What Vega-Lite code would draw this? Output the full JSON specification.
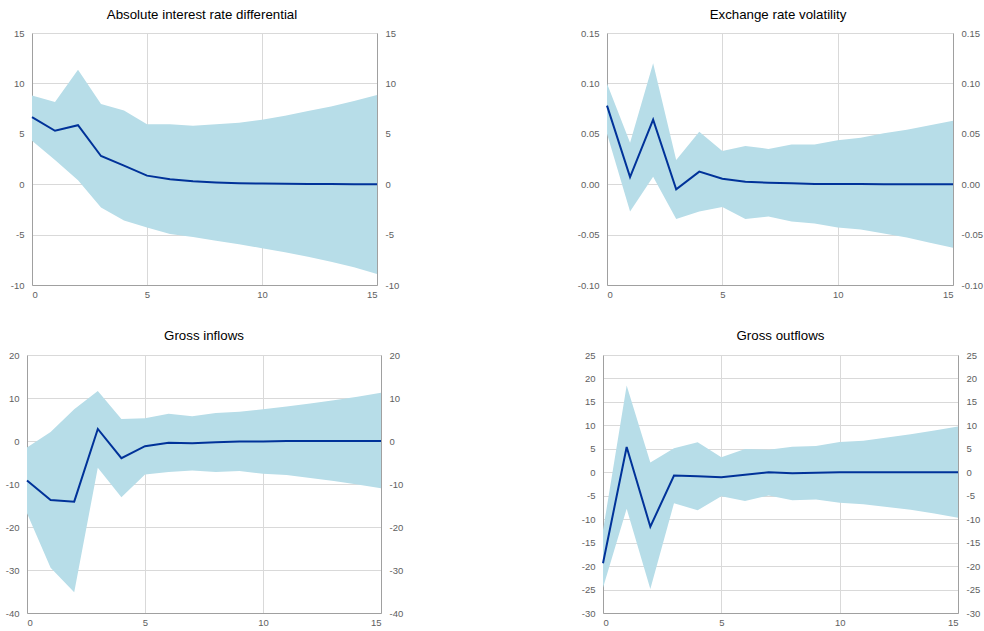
{
  "$schema": "https://vega.github.io/schema/vega-lite/v6.json",
  "padding": {"left": 0, "top": 7, "right": 0, "bottom": 0},
  "background": "white",
  "config": {
    "view": {"stroke": null},
    "locale": {"number": {"decimal": ".", "thousands": ",", "grouping": [3], "currency": ["$", ""], "minus": "-"}},
    "title": {"font": "Liberation Sans", "fontSize": 13.3, "fontWeight": "normal", "color": "#000000", "offset": 7},
    "axis": {"labelFont": "Liberation Sans", "labelFontSize": 9.5, "labelColor": "#606060", "domainColor": "#a0a0a0", "domainWidth": 1, "ticks": false, "gridColor": "#d9d9d9", "gridWidth": 1, "title": null, "labelPadding": 8, "minExtent": 0}
  },
  "spacing": 162,
  "hconcat": [
    {
      "spacing": 29,
      "vconcat": [
        {
          "width": 350, "height": 252,
          "title": "Absolute interest rate differential",
          "data": {"values": [
            {"h": 0, "lo": 4.3, "mid": 6.65, "hi": 8.8},
            {"h": 1, "lo": 2.4, "mid": 5.3, "hi": 8.15},
            {"h": 2, "lo": 0.4, "mid": 5.85, "hi": 11.35},
            {"h": 3, "lo": -2.3, "mid": 2.8, "hi": 7.95},
            {"h": 4, "lo": -3.6, "mid": 1.85, "hi": 7.3},
            {"h": 5, "lo": -4.3, "mid": 0.85, "hi": 5.95},
            {"h": 6, "lo": -4.95, "mid": 0.5, "hi": 5.95},
            {"h": 7, "lo": -5.25, "mid": 0.3, "hi": 5.8},
            {"h": 8, "lo": -5.6, "mid": 0.18, "hi": 5.95},
            {"h": 9, "lo": -5.95, "mid": 0.1, "hi": 6.1},
            {"h": 10, "lo": -6.35, "mid": 0.06, "hi": 6.4},
            {"h": 11, "lo": -6.75, "mid": 0.04, "hi": 6.8},
            {"h": 12, "lo": -7.2, "mid": 0.02, "hi": 7.25},
            {"h": 13, "lo": -7.7, "mid": 0.01, "hi": 7.7},
            {"h": 14, "lo": -8.25, "mid": 0.0, "hi": 8.25},
            {"h": 15, "lo": -8.9, "mid": 0.0, "hi": 8.85}
          ]},
          "encoding": {"x": {"field": "h", "type": "quantitative", "scale": {"domain": [0, 15], "nice": false, "range": [5, 350]}, "axis": {"values": [0, 5, 10, 15], "grid": true, "labelPadding": 4}}},
          "layer": [
            {"mark": {"type": "area", "color": "#b7dde8", "opacity": 1},
             "encoding": {"y": {"field": "lo", "type": "quantitative", "scale": {"domain": [-10, 15], "nice": false}, "axis": {"values": [-10, -5, 0, 5, 10, 15], "grid": true, "offset": -5}}, "y2": {"field": "hi"}}},
            {"mark": {"type": "line", "color": "#003299", "strokeWidth": 2},
             "encoding": {"y": {"field": "mid", "type": "quantitative", "axis": {"values": [-10, -5, 0, 5, 10, 15], "grid": false, "orient": "right", "minExtent": 28, "maxExtent": 28}}}}
          ],
          "resolve": {"axis": {"y": "independent"}}
        },
        {
          "width": 354, "height": 258,
          "title": {"text": "Gross inflows", "offset": 8},
          "data": {"values": [
            {"h": 0, "lo": -16.8, "mid": -9.2, "hi": -1.5},
            {"h": 1, "lo": -29.5, "mid": -13.7, "hi": 2.1},
            {"h": 2, "lo": -35.2, "mid": -14.1, "hi": 7.4},
            {"h": 3, "lo": -6.2, "mid": 2.8, "hi": 11.6},
            {"h": 4, "lo": -13.1, "mid": -4.0, "hi": 5.1},
            {"h": 5, "lo": -7.8, "mid": -1.2, "hi": 5.3},
            {"h": 6, "lo": -7.2, "mid": -0.4, "hi": 6.35},
            {"h": 7, "lo": -6.85, "mid": -0.55, "hi": 5.75},
            {"h": 8, "lo": -7.2, "mid": -0.3, "hi": 6.5},
            {"h": 9, "lo": -7.0, "mid": -0.1, "hi": 6.8},
            {"h": 10, "lo": -7.6, "mid": -0.1, "hi": 7.4},
            {"h": 11, "lo": -7.9, "mid": 0.0, "hi": 8.0},
            {"h": 12, "lo": -8.6, "mid": 0.0, "hi": 8.7},
            {"h": 13, "lo": -9.3, "mid": 0.0, "hi": 9.5},
            {"h": 14, "lo": -10.1, "mid": 0.0, "hi": 10.3},
            {"h": 15, "lo": -11.0, "mid": 0.0, "hi": 11.2}
          ]},
          "encoding": {"x": {"field": "h", "type": "quantitative", "scale": {"domain": [0, 15], "nice": false}, "axis": {"values": [0, 5, 10, 15], "grid": true, "labelPadding": 4}}},
          "layer": [
            {"mark": {"type": "area", "color": "#b7dde8", "opacity": 1},
             "encoding": {"y": {"field": "lo", "type": "quantitative", "scale": {"domain": [-40, 20], "nice": false}, "axis": {"values": [-40, -30, -20, -10, 0, 10, 20], "grid": true, "minExtent": 27, "maxExtent": 27}}, "y2": {"field": "hi"}}},
            {"mark": {"type": "line", "color": "#003299", "strokeWidth": 2},
             "encoding": {"y": {"field": "mid", "type": "quantitative", "axis": {"values": [-40, -30, -20, -10, 0, 10, 20], "grid": false, "orient": "right", "minExtent": 28, "maxExtent": 28}}}}
          ],
          "resolve": {"axis": {"y": "independent"}}
        }
      ]
    },
    {
      "spacing": 29,
      "vconcat": [
        {
          "width": 350, "height": 252,
          "title": "Exchange rate volatility",
          "data": {"values": [
            {"h": 0, "lo": 0.05, "mid": 0.078, "hi": 0.1},
            {"h": 1, "lo": -0.027, "mid": 0.007, "hi": 0.041},
            {"h": 2, "lo": 0.0075, "mid": 0.064, "hi": 0.12},
            {"h": 3, "lo": -0.0345, "mid": -0.005, "hi": 0.024},
            {"h": 4, "lo": -0.027, "mid": 0.0125, "hi": 0.052},
            {"h": 5, "lo": -0.0225, "mid": 0.0055, "hi": 0.033},
            {"h": 6, "lo": -0.0345, "mid": 0.0025, "hi": 0.038},
            {"h": 7, "lo": -0.032, "mid": 0.0015, "hi": 0.035},
            {"h": 8, "lo": -0.037, "mid": 0.001, "hi": 0.0395},
            {"h": 9, "lo": -0.039, "mid": 0.0003, "hi": 0.0395},
            {"h": 10, "lo": -0.043, "mid": 0.0002, "hi": 0.0435},
            {"h": 11, "lo": -0.045, "mid": 0.0001, "hi": 0.046},
            {"h": 12, "lo": -0.049, "mid": 0.0, "hi": 0.0505},
            {"h": 13, "lo": -0.053, "mid": 0.0, "hi": 0.054},
            {"h": 14, "lo": -0.058, "mid": 0.0, "hi": 0.0585},
            {"h": 15, "lo": -0.063, "mid": 0.0, "hi": 0.063}
          ]},
          "encoding": {"x": {"field": "h", "type": "quantitative", "scale": {"domain": [0, 15], "nice": false, "range": [4, 350]}, "axis": {"values": [0, 5, 10, 15], "grid": true, "labelPadding": 4}}},
          "layer": [
            {"mark": {"type": "area", "color": "#b7dde8", "opacity": 1},
             "encoding": {"y": {"field": "lo", "type": "quantitative", "scale": {"domain": [-0.1, 0.15], "nice": false}, "axis": {"values": [-0.1, -0.05, 0, 0.05, 0.1, 0.15], "format": ".2f", "grid": true, "offset": -4}}, "y2": {"field": "hi"}}},
            {"mark": {"type": "line", "color": "#003299", "strokeWidth": 2},
             "encoding": {"y": {"field": "mid", "type": "quantitative", "axis": {"values": [-0.1, -0.05, 0, 0.05, 0.1, 0.15], "format": ".2f", "grid": false, "orient": "right", "minExtent": 28, "maxExtent": 28}}}}
          ],
          "resolve": {"axis": {"y": "independent"}}
        },
        {
          "width": 355, "height": 258,
          "title": {"text": "Gross outflows", "offset": 8},
          "data": {"values": [
            {"h": 0, "lo": -24.6, "mid": -19.4, "hi": -12.4},
            {"h": 1, "lo": -7.8, "mid": 5.4, "hi": 18.5},
            {"h": 2, "lo": -24.9, "mid": -11.6, "hi": 2.1},
            {"h": 3, "lo": -6.6, "mid": -0.7, "hi": 5.1},
            {"h": 4, "lo": -8.1, "mid": -0.85, "hi": 6.4},
            {"h": 5, "lo": -5.1, "mid": -1.05, "hi": 3.2},
            {"h": 6, "lo": -6.15, "mid": -0.55, "hi": 4.95},
            {"h": 7, "lo": -4.95, "mid": 0.0, "hi": 4.8},
            {"h": 8, "lo": -5.95, "mid": -0.2, "hi": 5.45},
            {"h": 9, "lo": -5.8, "mid": -0.1, "hi": 5.6},
            {"h": 10, "lo": -6.5, "mid": 0.0, "hi": 6.45},
            {"h": 11, "lo": -6.8, "mid": 0.0, "hi": 6.7},
            {"h": 12, "lo": -7.4, "mid": 0.0, "hi": 7.4},
            {"h": 13, "lo": -8.0, "mid": 0.0, "hi": 8.1},
            {"h": 14, "lo": -8.8, "mid": 0.0, "hi": 8.9},
            {"h": 15, "lo": -9.7, "mid": 0.0, "hi": 9.75}
          ]},
          "encoding": {"x": {"field": "h", "type": "quantitative", "scale": {"domain": [0, 15], "nice": false}, "axis": {"values": [0, 5, 10, 15], "grid": true, "labelPadding": 4}}},
          "layer": [
            {"mark": {"type": "area", "color": "#b7dde8", "opacity": 1},
             "encoding": {"y": {"field": "lo", "type": "quantitative", "scale": {"domain": [-30, 25], "nice": false}, "axis": {"values": [-30, -25, -20, -15, -10, -5, 0, 5, 10, 15, 20, 25], "grid": true, "minExtent": 32, "maxExtent": 32}}, "y2": {"field": "hi"}}},
            {"mark": {"type": "line", "color": "#003299", "strokeWidth": 2},
             "encoding": {"y": {"field": "mid", "type": "quantitative", "axis": {"values": [-30, -25, -20, -15, -10, -5, 0, 5, 10, 15, 20, 25], "grid": false, "orient": "right", "minExtent": 28, "maxExtent": 28}}}}
          ],
          "resolve": {"axis": {"y": "independent"}}
        }
      ]
    }
  ]
}
